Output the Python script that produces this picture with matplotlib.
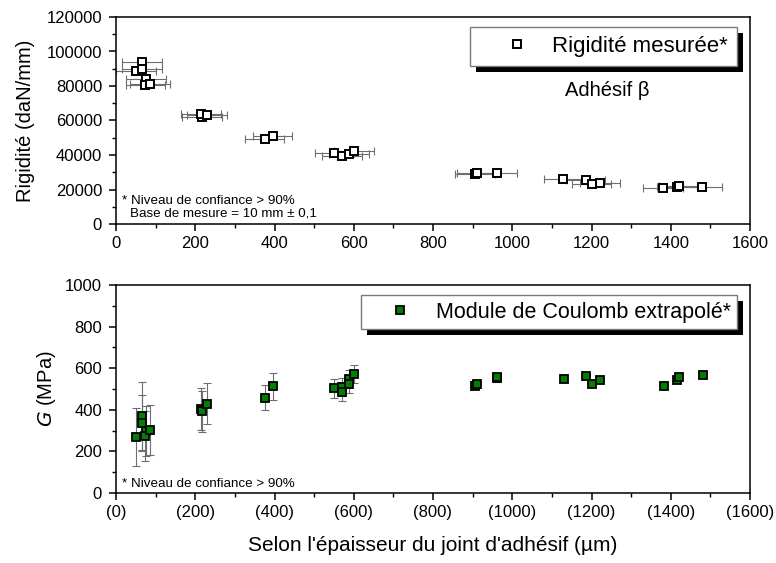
import matplotlib
matplotlib.use("Agg")
import matplotlib.pyplot as plt
from matplotlib.ticker import MultipleLocator, FixedLocator, FixedFormatter
from matplotlib.patches import Rectangle
from matplotlib.transforms import IdentityTransform

plt.rcParams['font.family'] = ['Liberation Sans', 'DejaVu Sans']

# ---------------- data ----------------
thick_top = [50, 65, 66, 75, 74, 86,
             217, 214, 230,
             375, 395,
             551, 570, 588, 600,
             906, 910, 961,
             1129, 1185, 1200, 1221,
             1381, 1415, 1421, 1480]
rigidity = [88700, 93700, 89700, 84200, 80600, 81200,
            62000, 63600, 63400,
            49300, 51000,
            41200, 39600, 40600, 42300,
            29200, 29400, 29600,
            25900, 25300, 23200, 23800,
            21000, 21500, 21800, 21500]
thick_err = [50] * len(thick_top)

thick_bot = [50, 65, 66, 75, 74, 86,
             215, 216, 230,
             375, 395,
             550, 570, 570, 589, 589, 600,
             906, 910, 961, 961,
             1130, 1185, 1200, 1221,
             1382, 1415, 1421, 1481]
modulus = [269, 370, 336, 300, 275, 303,
           405, 392, 430,
           458, 513,
           503, 510, 487, 548, 524, 572,
           514, 522, 551, 558,
           546, 564, 524, 543,
           514, 545, 559, 569]
modulus_err = [138, 165, 136, 120, 120, 120,
               100, 100, 100,
               60, 65,
               45, 45, 45, 45, 45, 45,
               15, 15, 15, 15,
               12, 12, 12, 12,
               12, 12, 12, 12]

x_ticks = [0, 200, 400, 600, 800, 1000, 1200, 1400, 1600]
x_labels_top = ["0", "200", "400", "600", "800", "1000", "1200", "1400", "1600"]
x_labels_bot = ["(0)", "(200)", "(400)", "(600)", "(800)", "(1000)", "(1200)", "(1400)", "(1600)"]

W, H = 776, 563
fig = plt.figure(figsize=(W / 100, H / 100), dpi=100)


def px_axes(l, t, r, b):
    return fig.add_axes([l / W, 1 - b / H, (r - l) / W, (b - t) / H])


ax1 = px_axes(116, 17, 750, 224)
ax2 = px_axes(116, 285, 750, 493)

ecol = '#6e6e6e'
ax1.errorbar(thick_top, rigidity, xerr=thick_err, fmt='none', ecolor=ecol,
             elinewidth=0.8, capsize=3, capthick=0.8, zorder=2)
ax1.plot(thick_top, rigidity, ls='none', marker='s', ms=5.8, mfc='white',
         mec='black', mew=1.4, zorder=3, label='Rigidité mesurée*')

ax2.errorbar(thick_bot, modulus, yerr=modulus_err, fmt='none', ecolor=ecol,
             elinewidth=0.8, capsize=3, capthick=0.8, zorder=2)
ax2.plot(thick_bot, modulus, ls='none', marker='s', ms=6.3, mfc='#008000',
         mec='black', mew=1.3, zorder=3, label='Module de Coulomb extrapolé*')

for ax in (ax1, ax2):
    ax.set_xlim(0, 1600)
    ax.xaxis.set_major_locator(FixedLocator(x_ticks))
    ax.xaxis.set_minor_locator(MultipleLocator(100))
    ax.tick_params(which='major', direction='out', length=5, width=1.1,
                   labelsize=12, pad=4)
    ax.tick_params(which='minor', direction='out', length=3, width=1.0)
    ax.tick_params(axis='y', which='major', pad=5)
    for s in ax.spines.values():
        s.set_linewidth(1.1)
        s.set_color('black')

ax1.xaxis.set_major_formatter(FixedFormatter(x_labels_top))
ax2.xaxis.set_major_formatter(FixedFormatter(x_labels_bot))

ax1.set_ylim(0, 120000)
ax1.yaxis.set_major_locator(MultipleLocator(20000))
ax1.yaxis.set_minor_locator(MultipleLocator(10000))
ax2.set_ylim(0, 1000)
ax2.yaxis.set_major_locator(MultipleLocator(200))
ax2.yaxis.set_minor_locator(MultipleLocator(100))

ax1.set_ylabel('Rigidité (daN/mm)', fontsize=14.5, labelpad=8)
ax2.set_ylabel(r'$\mathit{G}$ (MPa)', fontsize=14.5, labelpad=5)
ax2.set_xlabel("Selon l'épaisseur du joint d'adhésif (µm)", fontsize=15, labelpad=11)

ax1.text(0.009, 0.0966, '* Niveau de confiance > 90%', transform=ax1.transAxes,
         fontsize=9.6, va='baseline', ha='left')
ax1.text(0.022, 0.035, 'Base de mesure = 10 mm ± 0,1', transform=ax1.transAxes,
         fontsize=9.6, va='baseline', ha='left')
ax2.text(0.009, 0.030, '* Niveau de confiance > 90%', transform=ax2.transAxes,
         fontsize=9.6, va='baseline', ha='left')
ax1.text(0.7744, 0.647, 'Adhésif β', transform=ax1.transAxes,
         fontsize=14.5, va='center', ha='center')

leg1 = ax1.legend(loc='upper right', bbox_to_anchor=(0.9795, 0.9517),
                  borderaxespad=0, fontsize=16, frameon=True, fancybox=False,
                  edgecolor='#7a7a7a', framealpha=1, borderpad=0.4,
                  handlelength=3.43, handletextpad=-0.14)
leg2 = ax2.legend(loc='upper right', bbox_to_anchor=(0.9795, 0.95),
                  borderaxespad=0, fontsize=15.5, frameon=True, fancybox=False,
                  edgecolor='#7a7a7a', framealpha=1, borderpad=0.3,
                  handlelength=3.0, handletextpad=0.14)
for leg in (leg1, leg2):
    leg.get_frame().set_linewidth(1.0)
    leg.set_zorder(6)

fig.canvas.draw()
renderer = fig.canvas.get_renderer()
for ax, leg in ((ax1, leg1), (ax2, leg2)):
    bb = leg.get_frame().get_window_extent(renderer)
    shadow = Rectangle((bb.x0 + 6, bb.y0 - 6), bb.width, bb.height,
                       transform=IdentityTransform(), facecolor='black',
                       edgecolor='none', zorder=5, clip_on=False)
    ax.add_artist(shadow)

fig.savefig('out.png', dpi=100)
